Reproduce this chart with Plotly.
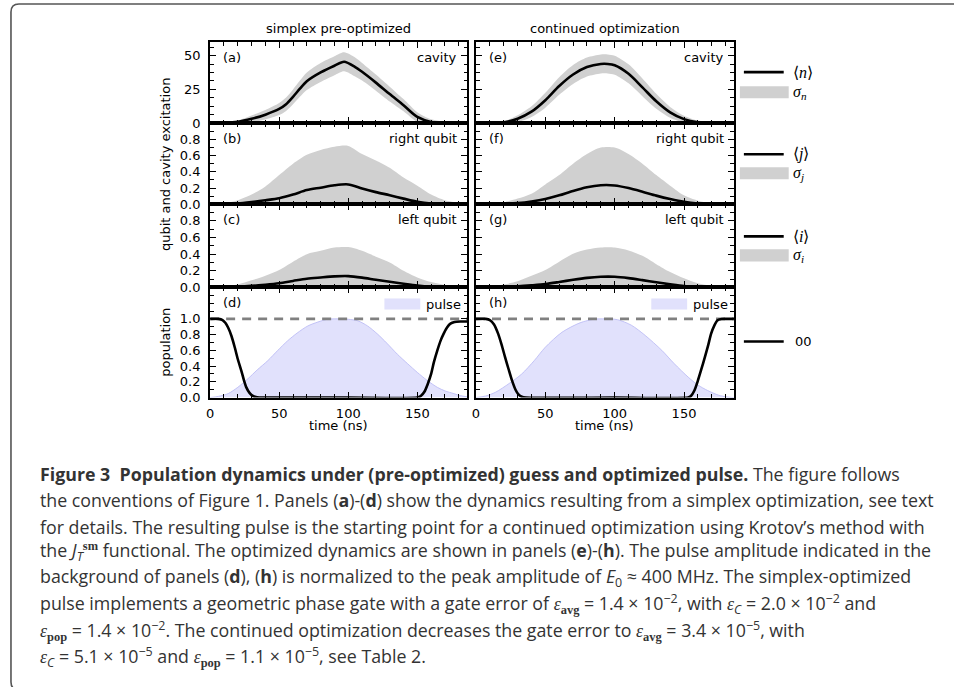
import plotly.graph_objects as go

W, H = 954, 687          # picture size the reference uses
H_LAYOUT = 696           # the captured page is ~696 px tall and scaled to 687

# ------------------------------------------------------------------ data
t_q = [0, 10, 20, 30, 40, 50, 60, 70, 80, 90, 100, 110, 120, 130, 140, 150, 160, 170, 180, 186]

# (a) cavity, simplex pre-optimized
t_cav_s = [0, 10, 20, 30, 40, 50, 55, 60, 65, 70, 80, 90, 97, 105, 110, 120, 130, 140, 150, 160, 170, 180, 186]
n_simplex = [0, 0.2, 1.0, 3.2, 6.3, 10.5, 14, 19.5, 25.5, 31, 37.5, 42.5, 45.4, 41.5, 38, 30, 21.5, 13.3, 4.6, 0.9, 0.2, 0.05, 0]
sig_n_simplex = [0, 0.3, 1.0, 2.5, 3.5, 4.5, 5.0, 5.5, 6.0, 6.5, 7.0, 7.0, 7.0, 7.0, 6.5, 6.0, 5.5, 4.5, 3.5, 2.0, 1.0, 0.3, 0.1]

# (e) cavity, continued optimization
t_cav_c = [0, 10, 20, 30, 40, 50, 60, 70, 80, 90, 95, 100, 110, 120, 130, 140, 150, 160, 170, 180, 186]
n_cont = [0, 0.1, 0.6, 3.3, 8.5, 17, 27.5, 36, 41.5, 43.8, 43.8, 42.8, 36.5, 26.5, 16.2, 8, 3, 0.7, 0.1, 0, 0]
sig_n_cont = [0, 0.2, 0.8, 2.5, 4.0, 5.5, 6.5, 7.0, 7.0, 7.0, 7.0, 7.0, 7.0, 6.5, 5.5, 4.0, 2.5, 1.2, 0.4, 0.1, 0]

# (b) right qubit, simplex
j_simplex = [0, 0.002, 0.01, 0.028, 0.05, 0.075, 0.12, 0.175, 0.205, 0.235, 0.245, 0.195, 0.15, 0.112, 0.07, 0.03, 0.008, 0.002, 0, 0]
sig_j_simplex = [0, 0.008, 0.04, 0.092, 0.17, 0.285, 0.38, 0.435, 0.465, 0.475, 0.475, 0.425, 0.39, 0.338, 0.26, 0.2, 0.112, 0.048, 0.02, 0.01]

# (f) right qubit, continued
j_cont = [0, 0, 0.004, 0.015, 0.035, 0.065, 0.11, 0.165, 0.21, 0.235, 0.232, 0.2, 0.155, 0.107, 0.065, 0.03, 0.01, 0.002, 0, 0]
sig_j_cont = [0, 0.005, 0.021, 0.055, 0.095, 0.18, 0.25, 0.335, 0.41, 0.465, 0.468, 0.42, 0.345, 0.253, 0.165, 0.08, 0.035, 0.013, 0.005, 0]

# (c) left qubit, simplex
i_simplex = [0, 0.002, 0.008, 0.018, 0.032, 0.05, 0.078, 0.105, 0.12, 0.133, 0.136, 0.118, 0.092, 0.068, 0.044, 0.022, 0.008, 0.002, 0, 0]
sig_i_simplex = [0, 0.008, 0.027, 0.067, 0.108, 0.16, 0.232, 0.295, 0.32, 0.347, 0.349, 0.322, 0.278, 0.232, 0.156, 0.098, 0.057, 0.028, 0.01, 0]

# (g) left qubit, continued
i_cont = [0, 0.001, 0.005, 0.013, 0.025, 0.04, 0.065, 0.092, 0.115, 0.128, 0.128, 0.112, 0.088, 0.062, 0.037, 0.015, 0.005, 0.001, 0, 0]
sig_i_cont = [0, 0.009, 0.03, 0.062, 0.115, 0.17, 0.245, 0.313, 0.34, 0.352, 0.352, 0.333, 0.292, 0.218, 0.148, 0.095, 0.045, 0.019, 0.005, 0]

# (d) population of 00 and pulse, simplex
t_pop_s = [0, 6, 9, 11, 13, 15.5, 17.8, 20, 22.6, 24.5, 26.2, 28.5, 31, 34, 38, 100, 150, 152.5, 155, 157.5, 160, 162,
           164.5, 167, 169, 171.5, 174, 177, 181, 186]
pop00_simplex = [1.0, 1.0, 0.985, 0.95, 0.89, 0.78, 0.64, 0.49, 0.34, 0.22, 0.13, 0.06, 0.02, 0.005, 0, 0, 0, 0.02, 0.07,
                 0.17, 0.3, 0.45, 0.6, 0.73, 0.81, 0.89, 0.94, 0.96, 0.966, 0.966]
t_pulse_s = [0, 6, 13, 20, 27.4, 34, 41.8, 49, 56, 63, 70.7, 78, 85, 94.5, 100, 107, 114, 121, 128, 135.6, 143, 150,
             157, 164.5, 170, 176.5, 181, 186]
pulse_simplex = [0, 0.015, 0.05, 0.13, 0.24, 0.35, 0.47, 0.6, 0.72, 0.82, 0.91, 0.96, 0.995, 1.0, 0.995, 0.975, 0.91,
                 0.81, 0.69, 0.55, 0.43, 0.32, 0.22, 0.13, 0.085, 0.05, 0.025, 0.01]

# (h) population of 00 and pulse, continued
t_pop_c = [0, 7, 10, 13, 16, 18.5, 21, 23.5, 26, 28.5, 30.6, 33, 36, 100, 153, 155, 157.5, 160, 162.5, 165, 167.5,
           169.5, 172, 174, 177, 180, 186]
pop00_cont = [1.0, 1.0, 0.985, 0.93, 0.81, 0.67, 0.51, 0.36, 0.215, 0.1, 0.04, 0.01, 0, 0, 0, 0.02, 0.09, 0.215, 0.36,
              0.51, 0.67, 0.81, 0.92, 0.98, 0.998, 1.0, 1.0]
t_pulse_c = [0, 7, 14, 24, 33, 42, 50, 62, 75, 85, 93, 102, 112, 122, 134, 143, 153, 160, 167, 175, 181, 186]
pulse_cont = [0, 0.02, 0.067, 0.18, 0.3, 0.47, 0.64, 0.83, 0.95, 0.995, 1.0, 0.99, 0.92, 0.79, 0.6, 0.43, 0.26, 0.16,
              0.09, 0.03, 0.008, 0]

t_span = [0, 186]
target_pop = [1.0, 1.0]

x_major = [0, 50, 100, 150]
x_minor = [10, 20, 30, 40, 60, 70, 80, 90, 110, 120, 130, 140, 160, 170, 180]
cav_major = [0, 25, 50]
cav_minor = [6.25, 12.5, 18.75, 31.25, 37.5, 43.75, 56.25]
q_major = [0.0, 0.2, 0.4, 0.6, 0.8]
q_minor = [0.1, 0.3, 0.5, 0.7, 0.9, 1.0]
p_major = [0.0, 0.2, 0.4, 0.6, 0.8, 1.0]
p_minor = [0.1, 0.3, 0.5, 0.7, 0.9, 1.1, 1.2, 1.3]

col_titles = ["simplex pre-optimized", "continued optimization"]
panel_letters = [["(a)", "(b)", "(c)", "(d)"], ["(e)", "(f)", "(g)", "(h)"]]
panel_names = ["cavity", "right qubit", "left qubit"]

# ------------------------------------------------------------------ layout helpers
def fx(p):
    return p / W


def fy(p):
    return 1 - p / H


cols = [(207, 465), (474, 733)]
rows = [(42, 123), (123, 204), (204, 287), (287, 397)]
yranges = [[0, 60], [0, 1.0], [0, 1.0], [0, 1.4]]
ymaj = [cav_major, q_major, q_major, p_major]
ymin = [cav_minor, q_minor, q_minor, p_minor]
yfmt = ["d", ".1f", ".1f", ".1f"]

BAND = "#d0d0d0"
PULSE_FILL = "rgba(205,205,250,0.6)"
PULSE_LINE = "rgba(190,190,245,0.9)"
TICKFONT = dict(family="DejaVu Sans", size=13, color="black")

fig = go.Figure()
layout = dict(width=W, height=H_LAYOUT, margin=dict(l=0, r=0, t=0, b=0, pad=0), paper_bgcolor="white",
              plot_bgcolor="rgba(0,0,0,0)", showlegend=False)

axis_index = {}
k = 0
for c in range(2):
    for r in range(4):
        k += 1
        axis_index[(c, r)] = k
        xs = "" if k == 1 else str(k)
        xd = [fx(cols[c][0]), fx(cols[c][1])]
        yd = [fy(rows[r][1]), fy(rows[r][0])]
        layout["xaxis" + xs] = dict(
            domain=xd, anchor="y" + xs, range=[0, 186], tickmode="array", tickvals=x_major,
            ticks="inside", ticklen=6, tickwidth=1.3, tickcolor="black", showline=True, linecolor="black",
            linewidth=2, mirror="ticks", showgrid=False, zeroline=False, showticklabels=(r == 3),
            tickfont=TICKFONT, ticklabelstandoff=3,
            minor=dict(tickmode="array", tickvals=x_minor, ticks="inside", ticklen=3.5, tickwidth=1,
                       tickcolor="black", showgrid=False))
        layout["yaxis" + xs] = dict(
            domain=yd, anchor="x" + xs, range=yranges[r], tickmode="array", tickvals=ymaj[r],
            tickformat=yfmt[r], ticks="inside", ticklen=6, tickwidth=1.3, tickcolor="black", showline=True,
            linecolor="black", linewidth=2, mirror="ticks", showgrid=False, zeroline=False,
            showticklabels=(c == 0), tickfont=TICKFONT, ticklabelstandoff=5,
            minor=dict(tickmode="array", tickvals=ymin[r], ticks="inside", ticklen=3.5, tickwidth=1,
                       tickcolor="black", showgrid=False))


def ax(c, r):
    k = axis_index[(c, r)]
    s = "" if k == 1 else str(k)
    return "x" + s, "y" + s


def add_band(c, r, t, mean, sig):
    xa, ya = ax(c, r)
    lo = [max(m - s, 0.0) for m, s in zip(mean, sig)]
    hi = [m + s for m, s in zip(mean, sig)]
    fig.add_trace(go.Scatter(x=t, y=lo, mode="lines", line=dict(width=0, color=BAND, shape="spline", smoothing=0.8),
                             xaxis=xa, yaxis=ya, hoverinfo="skip"))
    fig.add_trace(go.Scatter(x=t, y=hi, mode="lines", fill="tonexty", fillcolor=BAND,
                             line=dict(width=0, color=BAND, shape="spline", smoothing=0.8),
                             xaxis=xa, yaxis=ya, hoverinfo="skip"))
    fig.add_trace(go.Scatter(x=t, y=mean, mode="lines",
                             line=dict(width=2.6, color="black", shape="spline", smoothing=0.8),
                             xaxis=xa, yaxis=ya))


add_band(0, 0, t_cav_s, n_simplex, sig_n_simplex)
add_band(1, 0, t_cav_c, n_cont, sig_n_cont)
add_band(0, 1, t_q, j_simplex, sig_j_simplex)
add_band(1, 1, t_q, j_cont, sig_j_cont)
add_band(0, 2, t_q, i_simplex, sig_i_simplex)
add_band(1, 2, t_q, i_cont, sig_i_cont)

for c, (tp, pv, tpop, popv) in enumerate([(t_pulse_s, pulse_simplex, t_pop_s, pop00_simplex),
                                          (t_pulse_c, pulse_cont, t_pop_c, pop00_cont)]):
    xa, ya = ax(c, 3)
    fig.add_trace(go.Scatter(x=tp, y=pv, mode="lines", fill="tozeroy", fillcolor=PULSE_FILL,
                             line=dict(width=1, color=PULSE_LINE, shape="spline", smoothing=0.8),
                             xaxis=xa, yaxis=ya))
    fig.add_trace(go.Scatter(x=t_span, y=target_pop, mode="lines",
                             line=dict(width=2.6, color="#808080", dash="9px,7px"), xaxis=xa, yaxis=ya))
    fig.add_trace(go.Scatter(x=tpop, y=popv, mode="lines",
                             line=dict(width=2.6, color="black", shape="spline", smoothing=0.6),
                             xaxis=xa, yaxis=ya))

# ------------------------------------------------------------------ annotations
ann = []
shapes = []


def text(x, y, s, size=13, xanchor="center", yanchor="middle", family="DejaVu Sans", color="black", angle=0):
    ann.append(dict(x=fx(x), y=fy(y), xref="paper", yref="paper", text=s, showarrow=False, xanchor=xanchor,
                    yanchor=yanchor, textangle=angle, font=dict(family=family, size=size, color=color)))


for c in range(2):
    cx = (cols[c][0] + cols[c][1]) / 2
    text(cx, 425, "time (ns)")
    text(cx, 28, col_titles[c])
    for r in range(4):
        top = rows[r][0]
        text(cols[c][0] + 11, top + 15, panel_letters[c][r], xanchor="left")
        if r < 3:
            text(cols[c][1] - 8, top + 15, panel_names[r], xanchor="right")
        else:
            rx1 = cols[c][1] - 47
            shapes.append(dict(type="rect", xref="paper", yref="paper", x0=fx(rx1 - 36), x1=fx(rx1),
                               y0=fy(309), y1=fy(298), fillcolor="rgba(205,205,250,0.6)", line=dict(width=0)))
            text(rx1 + 4, 304, "pulse", xanchor="left")

text(162, 164.5, "qubit and cavity excitation", angle=-90)
text(162, 342, "population", angle=-90)

# right-hand legend
legend_items = [(72, 92, "n"), (154, 173, "j"), (236, 255, "i")]
for yl, yp, sym in legend_items:
    shapes.append(dict(type="line", xref="paper", yref="paper", x0=fx(743), x1=fx(783), y0=fy(yl), y1=fy(yl),
                       line=dict(color="black", width=2.6)))
    shapes.append(dict(type="rect", xref="paper", yref="paper", x0=fx(739), x1=fx(788), y0=fy(yp + 6),
                       y1=fy(yp - 6), fillcolor=BAND, line=dict(width=0)))
    text(790, yl, "⟨<i>%s</i>⟩" % sym, size=16, xanchor="left", family="Liberation Serif")
    text(790, yp, "<i>σ</i><sub><i>%s</i></sub>" % sym, size=16, xanchor="left", family="Liberation Serif")
shapes.append(dict(type="line", xref="paper", yref="paper", x0=fx(743), x1=fx(783), y0=fy(341), y1=fy(341),
                   line=dict(color="black", width=2.6)))
text(792, 341, "00", xanchor="left")

# caption
EPS = '<span style="font-family:Liberation Serif"><i>ε</i></span>'
SERB = '<span style="font-family:Liberation Serif"><b>%s</b></span>'
caption_lines = [
    "<b>Figure 3\u00a0 Population dynamics under (pre-optimized) guess and optimized pulse.</b> The figure follows",
    "the conventions of Figure 1. Panels (<b>a</b>)-(<b>d</b>) show the dynamics resulting from a simplex optimization, see text",
    "for details. The resulting pulse is the starting point for a continued optimization using Krotov’s method with",
    "the <i>J</i><sub><i>T</i></sub><sup>" + SERB % "sm" + "</sup> functional. The optimized dynamics are shown in panels (<b>e</b>)-(<b>h</b>). The pulse amplitude indicated in the",
    "background of panels (<b>d</b>), (<b>h</b>) is normalized to the peak amplitude of <i>E</i><sub>0</sub> ≈ 400 MHz. The simplex-optimized",
    "pulse implements a geometric phase gate with a gate error of " + EPS + "<sub>" + SERB % "avg" + "</sub> = 1.4 × 10<sup>−2</sup>, with " + EPS + "<sub><i>C</i></sub> = 2.0 × 10<sup>−2</sup> and",
    EPS + "<sub>" + SERB % "pop" + "</sub> = 1.4 × 10<sup>−2</sup>. The continued optimization decreases the gate error to " + EPS + "<sub>" + SERB % "avg" + "</sub> = 3.4 × 10<sup>−5</sup>, with",
    EPS + "<sub><i>C</i></sub> = 5.1 × 10<sup>−5</sup> and " + EPS + "<sub>" + SERB % "pop" + "</sub> = 1.1 × 10<sup>−5</sup>, see Table 2.",
]
for idx, line in enumerate(caption_lines):
    ann.append(dict(x=fx(34), y=fy(482 + idx * 26.4), xref="paper", yref="paper", text=line, showarrow=False,
                    xanchor="left", yanchor="bottom", yshift=-5,
                    font=dict(family="Open Sans", size=17.8, color="#333333")))

# frame (bottom edge lies just outside the picture)
frame = "M %f,%f L %f,%f Q %f,%f %f,%f L %f,%f Q %f,%f %f,%f L %f,%f" % (
    fx(960), fy(4), fx(15), fy(4), fx(7), fy(4), fx(7), fy(12), fx(7), fy(681), fx(7), fy(689), fx(15), fy(689),
    fx(960), fy(689))
shapes.append(dict(type="path", xref="paper", yref="paper", path=frame, line=dict(color="#555555", width=1.6)))

layout["annotations"] = ann
layout["shapes"] = shapes
fig.update_layout(**layout)
post = ("document.documentElement.style.margin='0';document.body.style.margin='0';"
        "document.body.style.overflow='hidden';document.documentElement.style.overflow='hidden';"
        "var gd=document.getElementById('{plot_id}');gd.style.position='fixed';gd.style.left='0px';"
        "gd.style.top='0px';")
fig.write_html("out.html", config={"displayModeBar": False}, post_script=post)
